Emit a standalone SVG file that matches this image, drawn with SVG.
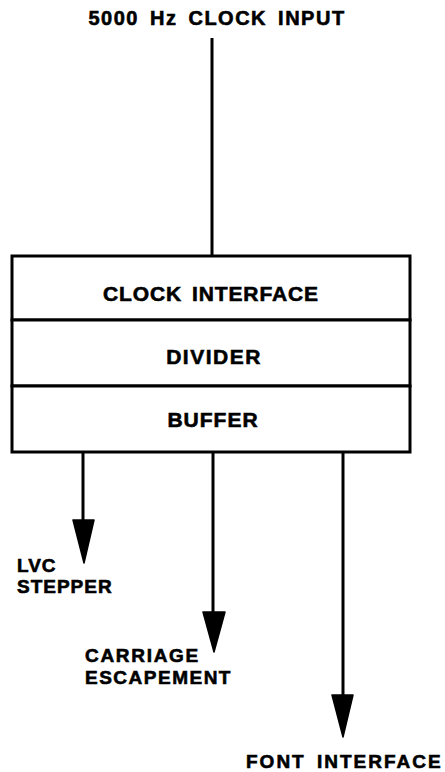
<svg xmlns="http://www.w3.org/2000/svg" width="445" height="772" viewBox="0 0 445 772">
<style>
.t{font-family:"Liberation Sans",Arial,sans-serif;font-weight:bold;fill:#000;stroke:#000;stroke-width:0.6;}
.box{fill:#fff;stroke:#000;stroke-width:3;}
.ln{stroke:#000;stroke-width:3;fill:none;}
.ah{fill:#000;stroke:#000;stroke-width:1.5;stroke-linejoin:round;}
</style>
<rect width="445" height="772" fill="#fff"/>
<text class="t" x="217" y="25" font-size="20" letter-spacing="1.5" word-spacing="4" text-anchor="middle">5000 Hz CLOCK INPUT</text>
<g id="connectors">
<line class="ln" x1="212" y1="38" x2="212" y2="256"/>
<line class="ln" x1="83" y1="452" x2="83" y2="525"/>
<polygon class="ah" points="73,520 94,520 84,563"/>
<line class="ln" x1="213" y1="452" x2="213" y2="615"/>
<polygon class="ah" points="203,612 225,612 214,652"/>
<line class="ln" x1="343" y1="452" x2="343" y2="698"/>
<polygon class="ah" points="332,695 353,695 343,737"/>
</g>
<g id="clock-interface">
<rect class="box" x="12" y="256" width="398" height="64"/>
<text class="t" x="211" y="301" font-size="21" letter-spacing="0.9" word-spacing="3" text-anchor="middle">CLOCK INTERFACE</text>
</g>
<g id="divider">
<rect class="box" x="12" y="320" width="398" height="66"/>
<text class="t" x="214" y="364" font-size="21" letter-spacing="1.5" text-anchor="middle">DIVIDER</text>
</g>
<g id="buffer">
<rect class="box" x="12" y="386" width="398" height="66"/>
<text class="t" x="213" y="427" font-size="21" letter-spacing="1" text-anchor="middle">BUFFER</text>
</g>
<g id="labels">
<text class="t" x="17" y="572" font-size="19" letter-spacing="1">LVC</text>
<text class="t" x="17" y="593" font-size="19" letter-spacing="1">STEPPER</text>
<text class="t" x="85" y="662" font-size="19" letter-spacing="1.7">CARRIAGE</text>
<text class="t" x="85" y="684" font-size="19" letter-spacing="1.5">ESCAPEMENT</text>
<text class="t" x="246" y="768" font-size="19" letter-spacing="2" word-spacing="4">FONT INTERFACE</text>
</g>
</svg>
